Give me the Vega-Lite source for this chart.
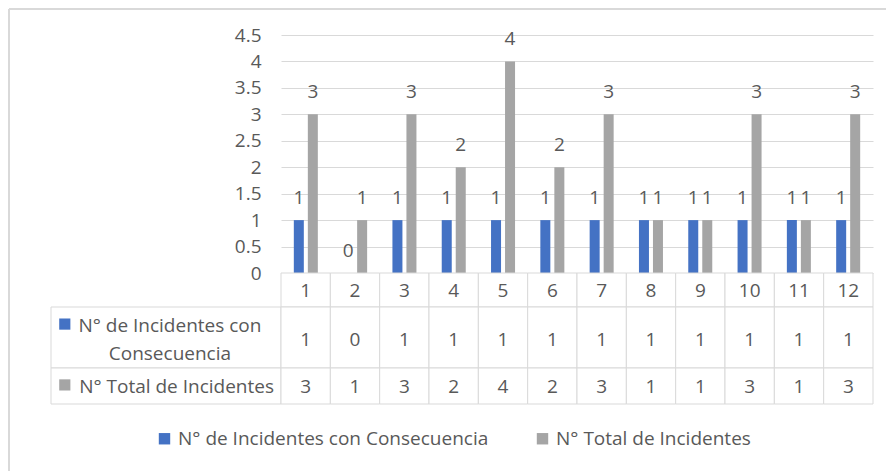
{
  "$schema": "https://vega.github.io/schema/vega-lite/v6.json",
  "background": "white",
  "padding": {"left": 8, "top": 8, "right": 0, "bottom": 0},
  "config": {
    "view": {"stroke": null},
    "concat": {"spacing": 0},
    "font": "Open Sans",
    "text": {"font": "Open Sans", "fontSize": 19, "color": "#595959"}
  },
  "datasets": {
    "tabla": [
      {"mes": 1, "serie": "N° de Incidentes con Consecuencia", "valor": 1},
      {"mes": 2, "serie": "N° de Incidentes con Consecuencia", "valor": 0},
      {"mes": 3, "serie": "N° de Incidentes con Consecuencia", "valor": 1},
      {"mes": 4, "serie": "N° de Incidentes con Consecuencia", "valor": 1},
      {"mes": 5, "serie": "N° de Incidentes con Consecuencia", "valor": 1},
      {"mes": 6, "serie": "N° de Incidentes con Consecuencia", "valor": 1},
      {"mes": 7, "serie": "N° de Incidentes con Consecuencia", "valor": 1},
      {"mes": 8, "serie": "N° de Incidentes con Consecuencia", "valor": 1},
      {"mes": 9, "serie": "N° de Incidentes con Consecuencia", "valor": 1},
      {"mes": 10, "serie": "N° de Incidentes con Consecuencia", "valor": 1},
      {"mes": 11, "serie": "N° de Incidentes con Consecuencia", "valor": 1},
      {"mes": 12, "serie": "N° de Incidentes con Consecuencia", "valor": 1},
      {"mes": 1, "serie": "N° Total de Incidentes", "valor": 3},
      {"mes": 2, "serie": "N° Total de Incidentes", "valor": 1},
      {"mes": 3, "serie": "N° Total de Incidentes", "valor": 3},
      {"mes": 4, "serie": "N° Total de Incidentes", "valor": 2},
      {"mes": 5, "serie": "N° Total de Incidentes", "valor": 4},
      {"mes": 6, "serie": "N° Total de Incidentes", "valor": 2},
      {"mes": 7, "serie": "N° Total de Incidentes", "valor": 3},
      {"mes": 8, "serie": "N° Total de Incidentes", "valor": 1},
      {"mes": 9, "serie": "N° Total de Incidentes", "valor": 1},
      {"mes": 10, "serie": "N° Total de Incidentes", "valor": 3},
      {"mes": 11, "serie": "N° Total de Incidentes", "valor": 1},
      {"mes": 12, "serie": "N° Total de Incidentes", "valor": 3}
    ]
  },
  "columns": 3,
  "spacing": 0,
  "bounds": "flush",
  "concat": [
    {
      "width": 42,
      "height": 26,
      "data": {"values": [{}]},
      "encoding": {
        "x": {"datum": 0, "type": "quantitative", "scale": {"domain": [0, 1]}, "axis": null},
        "y": {"datum": 0, "type": "quantitative", "scale": {"domain": [0, 1]}, "axis": null}
      },
      "layer": [
        {"mark": {"type": "rule", "color": "#D9D9D9", "strokeWidth": 2}, "encoding": {"y2": {"datum": 1}}},
        {"mark": {"type": "rule", "color": "#D9D9D9", "strokeWidth": 2}, "encoding": {"y": {"datum": 1, "type": "quantitative"}, "x2": {"datum": 1}}}
      ]
    },
    {
      "width": 230,
      "height": 26,
      "data": {"values": [{}]},
      "mark": {"type": "rule", "color": "#D9D9D9", "strokeWidth": 2},
      "encoding": {
        "x": {"datum": 0, "type": "quantitative", "scale": {"domain": [0, 1]}, "axis": null},
        "x2": {"datum": 1},
        "y": {"datum": 1, "type": "quantitative", "scale": {"domain": [0, 1]}, "axis": null}
      }
    },
    {
      "width": 606,
      "height": 26,
      "data": {"values": [{}]},
      "mark": {"type": "rule", "color": "#D9D9D9", "strokeWidth": 2},
      "encoding": {
        "x": {"datum": 0, "type": "quantitative", "scale": {"domain": [0, 1]}, "axis": null},
        "x2": {"datum": 1},
        "y": {"datum": 1, "type": "quantitative", "scale": {"domain": [0, 1]}, "axis": null}
      }
    },
    {
      "width": 42,
      "height": 238,
      "data": {"values": [{}]},
      "mark": {"type": "rule", "color": "#D9D9D9", "strokeWidth": 2},
      "encoding": {
        "x": {"datum": 0, "type": "quantitative", "scale": {"domain": [0, 1]}, "axis": null},
        "y": {"datum": 0, "type": "quantitative", "scale": {"domain": [0, 1]}, "axis": null},
        "y2": {"datum": 1}
      }
    },
    {
      "width": 230,
      "height": 238,
      "data": {"values": [{}]},
      "mark": {"type": "point", "opacity": 0},
      "encoding": {}
    },
    {
      "width": 592,
      "height": 238,
      "data": {"name": "tabla"},
      "encoding": {
        "x": {"field": "mes", "type": "ordinal", "axis": null, "scale": {"paddingInner": 0.513, "paddingOuter": 0.26}},
        "xOffset": {"field": "serie", "type": "nominal", "sort": ["N° de Incidentes con Consecuencia", "N° Total de Incidentes"], "scale": {"paddingInner": 0.286, "paddingOuter": 0}},
        "y": {
          "field": "valor",
          "type": "quantitative",
          "scale": {"domain": [0, 4.5], "nice": false},
          "axis": {
            "values": [0, 0.5, 1, 1.5, 2, 2.5, 3, 3.5, 4, 4.5],
            "format": "~f",
            "title": null,
            "domain": false,
            "ticks": false,
            "grid": true,
            "gridColor": "#D9D9D9",
            "gridWidth": 1,
            "labelPadding": 20,
            "labelFont": "Open Sans",
            "labelFontSize": 19,
            "labelColor": "#595959"
          }
        }
      },
      "layer": [
        {
          "mark": {"type": "bar"},
          "encoding": {
            "color": {
              "field": "serie",
              "type": "nominal",
              "scale": {"domain": ["N° de Incidentes con Consecuencia", "N° Total de Incidentes"], "range": ["#4472C4", "#A5A5A5"]},
              "legend": {
                "orient": "none",
                "legendX": 146,
                "legendY": 420,
                "direction": "horizontal",
                "title": null,
                "padding": 0,
                "symbolType": "square",
                "symbolSize": 130,
                "symbolStrokeWidth": 0,
                "labelFont": "Open Sans",
                "labelFontSize": 19,
                "labelColor": "#595959",
                "labelOffset": 4,
                "columnPadding": 44,
                "labelLimit": 500
              }
            }
          }
        },
        {
          "mark": {"type": "text", "baseline": "middle", "dy": -22},
          "encoding": {"text": {"field": "valor", "type": "quantitative"}}
        }
      ]
    },
    {
      "width": 42,
      "height": 34,
      "data": {"values": [{}]},
      "mark": {"type": "rule", "color": "#D9D9D9", "strokeWidth": 2},
      "encoding": {
        "x": {"datum": 0, "type": "quantitative", "scale": {"domain": [0, 1]}, "axis": null},
        "y": {"datum": 0, "type": "quantitative", "scale": {"domain": [0, 1]}, "axis": null},
        "y2": {"datum": 1}
      }
    },
    {
      "width": 230,
      "height": 34,
      "data": {"values": [{}]},
      "mark": {"type": "point", "opacity": 0},
      "encoding": {}
    },
    {
      "width": 592,
      "height": 34,
      "data": {"name": "tabla"},
      "transform": [{"filter": "datum.serie === 'N° Total de Incidentes'"}],
      "encoding": {
        "x": {"field": "mes", "type": "ordinal", "axis": null, "scale": {"paddingInner": 0, "paddingOuter": 0}}
      },
      "layer": [
        {"mark": {"type": "rect", "fill": "white", "stroke": "#D9D9D9", "strokeWidth": 1}},
        {"mark": {"type": "text", "baseline": "middle", "dy": 1}, "encoding": {"text": {"field": "mes", "type": "ordinal"}}}
      ]
    },
    {
      "width": 42,
      "height": 61,
      "data": {"values": [{}]},
      "mark": {"type": "rule", "color": "#D9D9D9", "strokeWidth": 2},
      "encoding": {
        "x": {"datum": 0, "type": "quantitative", "scale": {"domain": [0, 1]}, "axis": null},
        "y": {"datum": 0, "type": "quantitative", "scale": {"domain": [0, 1]}, "axis": null},
        "y2": {"datum": 1}
      }
    },
    {
      "width": 230,
      "height": 61,
      "data": {"values": [{"serie": "N° de Incidentes con Consecuencia", "etiqueta": "N° de Incidentes con\nConsecuencia"}]},
      "encoding": {
        "x": {"field": "serie", "type": "nominal", "axis": null, "scale": {"paddingInner": 0, "paddingOuter": 0}},
        "y": {"field": "serie", "type": "nominal", "axis": null, "scale": {"paddingInner": 0, "paddingOuter": 0}}
      },
      "layer": [
        {"mark": {"type": "rect", "fill": "white", "stroke": "#D9D9D9", "strokeWidth": 1}},
        {
          "mark": {"type": "point", "shape": "square", "filled": true, "size": 125, "color": "#4472C4", "opacity": 1},
          "encoding": {
            "x": {"field": "serie", "type": "nominal", "bandPosition": 0.06},
            "y": {"field": "serie", "type": "nominal", "bandPosition": 0.28}
          }
        },
        {
          "mark": {"type": "text", "baseline": "middle", "lineBreak": "\n", "lineHeight": 28},
          "encoding": {
            "x": {"field": "serie", "type": "nominal", "bandPosition": 0.517},
            "y": {"field": "serie", "type": "nominal", "bandPosition": 0.31},
            "text": {"field": "etiqueta", "type": "nominal"}
          }
        }
      ]
    },
    {
      "width": 592,
      "height": 61,
      "data": {"name": "tabla"},
      "transform": [{"filter": "datum.serie === 'N° de Incidentes con Consecuencia'"}],
      "encoding": {
        "x": {"field": "mes", "type": "ordinal", "axis": null, "scale": {"paddingInner": 0, "paddingOuter": 0}}
      },
      "layer": [
        {"mark": {"type": "rect", "fill": "white", "stroke": "#D9D9D9", "strokeWidth": 1}},
        {"mark": {"type": "text", "baseline": "middle", "dy": 2}, "encoding": {"text": {"field": "valor", "type": "quantitative"}}}
      ]
    },
    {
      "width": 42,
      "height": 36,
      "data": {"values": [{}]},
      "mark": {"type": "rule", "color": "#D9D9D9", "strokeWidth": 2},
      "encoding": {
        "x": {"datum": 0, "type": "quantitative", "scale": {"domain": [0, 1]}, "axis": null},
        "y": {"datum": 0, "type": "quantitative", "scale": {"domain": [0, 1]}, "axis": null},
        "y2": {"datum": 1}
      }
    },
    {
      "width": 230,
      "height": 36,
      "data": {"values": [{"serie": "N° Total de Incidentes", "etiqueta": "N° Total de Incidentes"}]},
      "encoding": {
        "x": {"field": "serie", "type": "nominal", "axis": null, "scale": {"paddingInner": 0, "paddingOuter": 0}},
        "y": {"field": "serie", "type": "nominal", "axis": null, "scale": {"paddingInner": 0, "paddingOuter": 0}}
      },
      "layer": [
        {"mark": {"type": "rect", "fill": "white", "stroke": "#D9D9D9", "strokeWidth": 1}},
        {
          "mark": {"type": "point", "shape": "square", "filled": true, "size": 125, "color": "#A5A5A5", "opacity": 1},
          "encoding": {
            "x": {"field": "serie", "type": "nominal", "bandPosition": 0.06},
            "y": {"field": "serie", "type": "nominal", "bandPosition": 0.47}
          }
        },
        {
          "mark": {"type": "text", "baseline": "middle"},
          "encoding": {
            "x": {"field": "serie", "type": "nominal", "bandPosition": 0.546},
            "y": {"field": "serie", "type": "nominal", "bandPosition": 0.52},
            "text": {"field": "etiqueta", "type": "nominal"}
          }
        }
      ]
    },
    {
      "width": 592,
      "height": 36,
      "data": {"name": "tabla"},
      "transform": [{"filter": "datum.serie === 'N° Total de Incidentes'"}],
      "encoding": {
        "x": {"field": "mes", "type": "ordinal", "axis": null, "scale": {"paddingInner": 0, "paddingOuter": 0}}
      },
      "layer": [
        {"mark": {"type": "rect", "fill": "white", "stroke": "#D9D9D9", "strokeWidth": 1}},
        {"mark": {"type": "text", "baseline": "middle", "dy": 1}, "encoding": {"text": {"field": "valor", "type": "quantitative"}}}
      ]
    },
    {
      "width": 42,
      "height": 68,
      "data": {"values": [{}]},
      "mark": {"type": "rule", "color": "#D9D9D9", "strokeWidth": 2},
      "encoding": {
        "x": {"datum": 0, "type": "quantitative", "scale": {"domain": [0, 1]}, "axis": null},
        "y": {"datum": 0, "type": "quantitative", "scale": {"domain": [0, 1]}, "axis": null},
        "y2": {"datum": 1}
      }
    },
    {
      "width": 230,
      "height": 68,
      "data": {"values": [{}]},
      "mark": {"type": "point", "opacity": 0},
      "encoding": {}
    },
    {
      "width": 606,
      "height": 68,
      "data": {"values": [{}]},
      "mark": {"type": "point", "opacity": 0},
      "encoding": {}
    }
  ]
}
